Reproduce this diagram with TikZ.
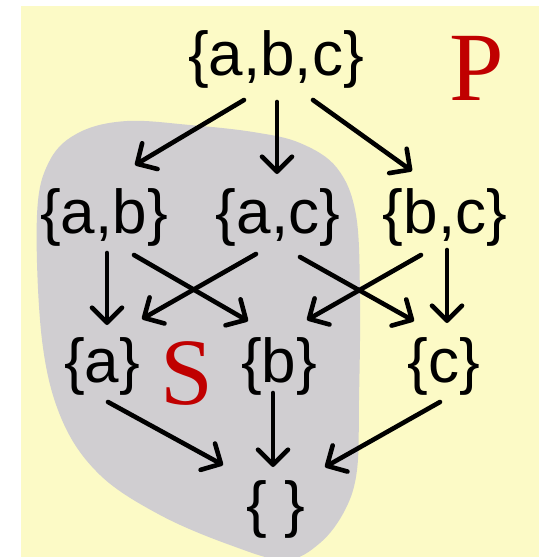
\documentclass[tikz,border=0pt]{standalone}
\usepackage{fontspec}
\setmainfont{Liberation Sans}
\newfontfamily\serifP{Liberation Serif}
\usetikzlibrary{arrows.meta,calc}
\definecolor{bgyellow}{RGB}{252,250,198}
\definecolor{blobgray}{RGB}{208,206,209}
\definecolor{labelred}{RGB}{192,0,0}
\begin{document}
\begin{tikzpicture}[x=1pt,y=-1pt,
  setnode/.style={anchor=base,inner sep=0pt,font=\fontsize{62}{66}\selectfont},
  biglabel/.style={anchor=base,inner sep=0pt,text=labelred},
  arr/.style={line width=4.6pt,line cap=round,-{Straight Barb[length=15pt,width=30pt,round]}}]
\useasboundingbox (0,0) rectangle (539,557);
\fill[bgyellow] (21,6) rectangle (539,557);
\begin{scope}
\clip (21,6) rectangle (539,557);
\fill[blobgray] plot[smooth cycle,tension=0.6] coordinates {
 (37,215) (50,160) (80,132) (127,121) (190,125) (253,132) (300,143)
 (337,168) (356,215) (360,300) (359,400) (357,470) (345,510) (320,543)
 (285,560) (230,545) (160,515) (100,475) (62,420) (42,340)};
\end{scope}
\node[setnode] (abc) at (276,75) {\{a,b,c\}};
\node[setnode] (ab) at (104,233) {\{a,b\}};
\node[setnode] (ac) at (278,233) {\{a,c\}};
\node[setnode] (bc) at (445,233) {\{b,c\}};
\node[setnode] (a) at (102,382) {\{a\}};
\node[setnode] (b) at (279,382) {\{b\}};
\node[setnode] (c) at (444,382) {\{c\}};
\node[setnode] (e) at (276,525) {\{ \}};
\node[biglabel,font=\serifP\fontsize{98}{100}\selectfont] (P) at (477,100) {P};
\node[biglabel,font=\serifP\fontsize{95}{100}\selectfont] (S) at (187,404) {S};
\draw[arr] ($(abc.base)+(-32,25)$) -- ($(ab.base)+(31,-68)$);
\draw[arr] ($(abc.base)+(1,27)$) -- ($(ac.base)+(-1,-59)$);
\draw[arr] ($(abc.base)+(37,25)$) -- ($(bc.base)+(-33,-62)$);
\draw[arr] ($(ab.base)+(3,20)$) -- ($(a.base)+(5,-57)$);
\draw[arr] ($(ab.base)+(30,22)$) -- ($(b.base)+(-31,-61)$);
\draw[arr] ($(ac.base)+(-22,21)$) -- ($(a.base)+(40,-63)$);
\draw[arr] ($(ac.base)+(22,24)$) -- ($(c.base)+(-30,-61)$);
\draw[arr] ($(bc.base)+(-24,22)$) -- ($(b.base)+(28,-62)$);
\draw[arr] ($(bc.base)+(2,17)$) -- ($(c.base)+(3,-59)$);
\draw[arr] ($(a.base)+(6,20)$) -- ($(e.base)+(-53,-60)$);
\draw[arr] ($(b.base)+(-6,11)$) -- ($(e.base)+(-3,-58)$);
\draw[arr] ($(c.base)+(-4,20)$) -- ($(e.base)+(49,-58)$);
\end{tikzpicture}
\end{document}
